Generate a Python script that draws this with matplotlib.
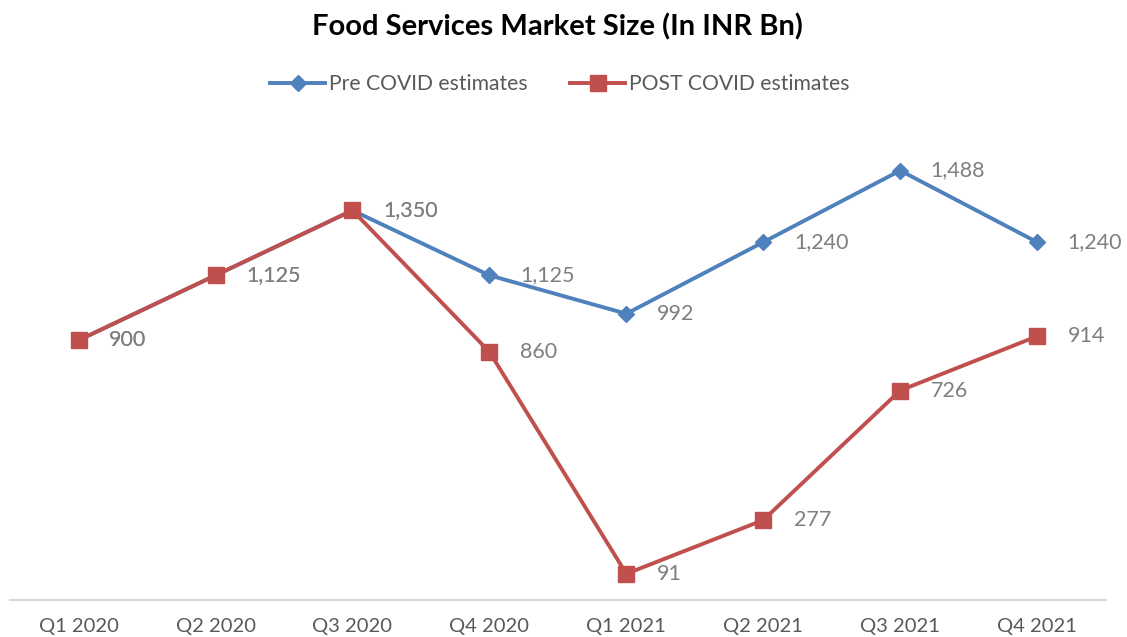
import matplotlib.pyplot as plt

plt.rcParams['font.family'] = ['Lato', 'DejaVu Sans']

# 数据
quarters = ['Q1 2020', 'Q2 2020', 'Q3 2020', 'Q4 2020',
            'Q1 2021', 'Q2 2021', 'Q3 2021', 'Q4 2021']
pre_covid = [900, 1125, 1350, 1125, 992, 1240, 1488, 1240]
post_covid = [900, 1125, 1350, 860, 91, 277, 726, 914]

blue = '#4F81BD'
red = '#C0504D'
label_grey = '#7F7F7F'

fig = plt.figure(figsize=(11.27, 6.37), dpi=100)
ax = fig.add_axes([0.009, 0.058, 0.972, 0.725])

x = list(range(len(quarters)))
ax.plot(x, pre_covid, color=blue, linewidth=2.8, marker='D', markersize=8,
        label='Pre COVID estimates', zorder=3)
ax.plot(x, post_covid, color=red, linewidth=2.8, marker='s', markersize=11,
        label='POST COVID estimates', zorder=4)

# 数据标签
for series in (pre_covid, post_covid):
    for xi, v in zip(x, series):
        ax.annotate(f'{v:,}', (xi, v), xytext=(22, 0), textcoords='offset points',
                    ha='left', va='center', fontsize=15.5, color=label_grey, zorder=5)

ax.set_xlim(-0.5, len(quarters) - 0.5)
ax.set_ylim(0, 1600)
ax.set_xticks(x)
ax.set_xticklabels(quarters, fontsize=14.5, color='#595959')
ax.tick_params(axis='x', length=0, pad=13)
ax.set_yticks([])
for s in ['top', 'left', 'right']:
    ax.spines[s].set_visible(False)
ax.spines['bottom'].set_color('#D9D9D9')
ax.spines['bottom'].set_linewidth(1.5)

fig.text(0.495, 0.958, 'Food Services Market Size (In INR Bn)', ha='center', va='center',
         fontsize=21, fontweight='bold', color='black')

fig.legend(loc='center', bbox_to_anchor=(0.497, 0.868), ncol=2, frameon=False,
           fontsize=15.2, handlelength=2.6, columnspacing=2.0, handletextpad=0.2,
           labelcolor='#595959')

plt.savefig('out.png', dpi=100)
